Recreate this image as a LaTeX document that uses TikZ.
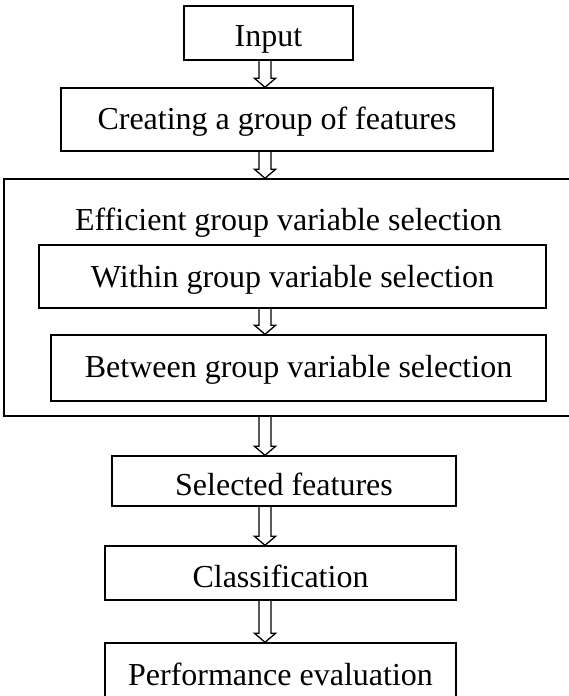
\documentclass[tikz,border=0pt]{standalone}
\usepackage{fontspec}
\setmainfont{Liberation Serif}
\usetikzlibrary{calc}

\tikzset{
  box/.style={draw, line width=1.4pt, inner sep=0pt, align=center,
    font=\fontsize{32}{38}\selectfont, text height=30pt},
  hollowarrow/.style={draw, line width=1.3pt, line join=miter},
}

% hollow block arrow from the bottom of #1 to the top of #2, on the axis ax
\newcommand\flowarrow[2]{%
  \draw[hollowarrow] let \p1=(#1.south -| ax), \p2=(#2.north -| ax) in
    (\x1-6pt,\y1) -- (\x1-6pt,\y2+9pt) -- (\x1-10.5pt,\y2+9pt)
    -- (\x2,\y2) -- (\x1+10.5pt,\y2+9pt) -- (\x1+6pt,\y2+9pt)
    -- (\x1+6pt,\y1);}

\begin{document}
\begin{tikzpicture}[x=1pt, y=-1pt]
  \useasboundingbox (0,0) rectangle (569,696);
  \coordinate (ax) at (265,0);

  \node[box, minimum width=169pt, minimum height=54pt, text depth=4pt]
    (input) at (268.5,33) {Input};
  \node[box, minimum width=432pt, minimum height=63pt, text depth=11pt]
    (create) at (277,119.5) {Creating a group of features};

  \node[box, minimum width=569pt, minimum height=237pt]
    (outer) at (288.5,297.5) {};
  \node[font=\fontsize{32}{38}\selectfont, anchor=base, inner sep=0pt]
    (title) at (288.5,230) {Efficient group variable selection};
  \node[box, minimum width=507pt, minimum height=63pt, text depth=9pt]
    (within) at (292.5,276.5) {Within group variable selection};
  \node[box, minimum width=495pt, minimum height=66pt, text depth=12pt]
    (between) at (298.5,368) {Between group variable selection};

  \node[box, minimum width=344pt, minimum height=50pt, text depth=2pt]
    (selected) at (284,481) {Selected features};
  \node[box, minimum width=351pt, minimum height=54pt, text depth=2pt]
    (classif) at (280.5,573) {Classification};
  \node[box, minimum width=351pt, minimum height=57pt, text depth=3pt]
    (perf) at (280.5,671.5) {Performance evaluation};

  \flowarrow{input}{create}
  \flowarrow{create}{outer}
  \flowarrow{within}{between}
  \flowarrow{outer}{selected}
  \flowarrow{selected}{classif}
  \flowarrow{classif}{perf}
\end{tikzpicture}
\end{document}
